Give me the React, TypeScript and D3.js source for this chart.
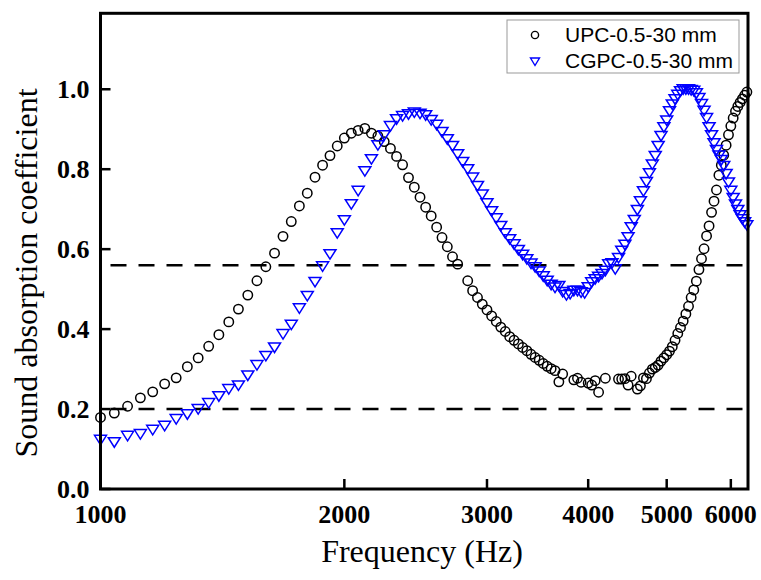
import React from "react";
import * as d3 from "d3";

const freqs = [
  1000, 1040, 1080, 1120, 1160, 1200, 1240, 1280, 1320, 1360, 1400, 1440, 1480, 1520, 1560, 1600,
  1640, 1680, 1720, 1760, 1800, 1840, 1880, 1920, 1960, 2000, 2040, 2080, 2120, 2160, 2200, 2240,
  2280, 2320, 2360, 2400, 2440, 2480, 2520, 2560, 2600, 2640, 2680, 2720, 2760, 2800, 2840, 2880,
  2920, 2960, 3000, 3040, 3080, 3120, 3160, 3200, 3240, 3280, 3320, 3360, 3400, 3440, 3480, 3520,
  3560, 3600, 3640, 3680, 3720, 3760, 3800, 3840, 3880, 3920, 3960, 4000, 4040, 4080, 4120, 4160,
  4200, 4240, 4280, 4320, 4360, 4400, 4440, 4480, 4520, 4560, 4600, 4640, 4680, 4720, 4760, 4800,
  4840, 4880, 4920, 4960, 5000, 5040, 5080, 5120, 5160, 5200, 5240, 5280, 5320, 5360, 5400, 5440,
  5480, 5520, 5560, 5600, 5640, 5680, 5720, 5760, 5800, 5840, 5880, 5920, 5960, 6000, 6040, 6080,
  6120, 6160, 6200, 6240, 6280,
];

const upc: (number | null)[] = [
  0.179, 0.19, 0.207, 0.228, 0.243, 0.263, 0.278, 0.306, 0.328, 0.357, 0.386, 0.418, 0.45, 0.485, 0.521, 0.556,
  0.59, 0.632, 0.669, 0.708, 0.74, 0.78, 0.81, 0.834, 0.858, 0.878, 0.89, 0.897, 0.902, 0.89, 0.883, 0.869,
  0.852, 0.832, 0.811, 0.779, 0.755, 0.73, 0.705, 0.683, 0.655, 0.629, 0.606, 0.581, 0.5625, null, 0.521, 0.496,
  0.479, 0.4625, 0.448, 0.433, 0.419, 0.405, 0.394, 0.381, 0.372, 0.363, 0.354, 0.346, 0.337, 0.329, 0.322, 0.314,
  0.307, 0.301, 0.296, 0.268, 0.2875, null, null, 0.273, 0.277, 0.267, null, 0.265, 0.26, 0.271, 0.242, null,
  0.277, null, null, null, 0.275, 0.275, 0.276, 0.26, 0.282, null, 0.25, 0.258, 0.278, 0.276, 0.29, 0.3,
  0.304, 0.31, 0.32, 0.328, 0.336, 0.345, 0.356, 0.372, 0.389, 0.404, 0.42, 0.438, 0.457, 0.479, 0.498, 0.52,
  0.549, 0.576, 0.601, 0.633, 0.658, 0.692, 0.72, 0.748, 0.785, 0.81, 0.835, 0.86, 0.886, 0.908, 0.928, 0.945,
  0.957, 0.967, 0.976, 0.985, 0.993,
];

const cgpc: (number | null)[] = [
  0.123, 0.117, 0.133, 0.1375, 0.148, 0.158, 0.175, 0.187, 0.2, 0.215, 0.232, 0.25, 0.259, 0.284, 0.31, 0.333,
  0.354, 0.3875, 0.411, 0.452, 0.483, 0.518, 0.557, 0.5875, 0.64, 0.6725, 0.7125, 0.746, 0.795, 0.825, 0.86, 0.885,
  0.908, 0.925, 0.933, 0.9375, 0.942, 0.939, 0.935, 0.923, 0.911, 0.893, 0.875, 0.858, 0.8375, 0.818, 0.8, 0.779,
  0.758, 0.737, 0.715, 0.695, 0.677, 0.658, 0.64, 0.625, 0.612, 0.598, 0.586, 0.575, 0.564, 0.555, 0.544, 0.532,
  0.521, 0.511, 0.504, 0.508, 0.493, 0.485, 0.488, 0.496, 0.496, 0.492, 0.49, 0.505, 0.517, 0.525, 0.531, 0.538,
  0.546, 0.562, 0.565, 0.55, 0.578, 0.596, 0.611, 0.63, 0.655, 0.673, 0.698, 0.72, 0.745, 0.768, 0.79, 0.812,
  0.833, 0.858, 0.883, 0.905, 0.922, 0.945, 0.962, 0.975, 0.986, 0.995, 1.0, 1.0, 1.0, 0.998, 0.996, 0.99,
  0.978, 0.963, 0.946, 0.928, 0.905, 0.885, 0.865, 0.848, 0.834, 0.823, 0.808, 0.788, 0.767, 0.746, 0.728, 0.712,
  0.698, 0.685, 0.675, 0.667, 0.66,
];

const seriesNames = ["UPC-0.5-30 mm", "CGPC-0.5-30 mm"];
const xTicks = [1000, 2000, 3000, 4000, 5000, 6000];
const yTicks = [0, 0.2, 0.4, 0.6, 0.8, 1.0];
const refLines = [0.2, 0.56];

const W = 761;
const H = 580;
const L = 100.5;
const R = 748;
const T = 13.3;
const B = 489;

const serif = "'Liberation Serif', 'Times New Roman', serif";
const sans = "'Liberation Sans', Arial, sans-serif";
const blue = "#0000ff";
const triPath = "M-6,-4.5L6,-4.5L0,5Z";
const triSmall = "M-4.5,-3.5L4.5,-3.5L0,4Z";

export default function App() {
  const x = d3.scaleLog().domain([1000, 6300]).range([L, R]);
  const y = d3.scaleLinear().domain([0, 1.19]).range([B, T]);

  const upcPts = freqs.map((f, i) => ({ f, v: upc[i] })).filter((d) => d.v !== null) as { f: number; v: number }[];
  const cgPts = freqs.map((f, i) => ({ f, v: cgpc[i] })).filter((d) => d.v !== null) as { f: number; v: number }[];

  return (
    <svg width={W} height={H} style={{ position: "absolute", left: 0, top: 0, background: "#fff" }}>
      <rect x={0} y={0} width={W} height={H} fill="#fff" />
      {refLines.map((r) => (
        <line
          key={r}
          x1={L}
          x2={R}
          y1={y(r)}
          y2={y(r)}
          stroke="#000"
          strokeWidth={2.5}
          strokeDasharray="16 12"
          strokeDashoffset={-10}
        />
      ))}
      {upcPts.map((d, i) => (
        <circle key={"u" + i} cx={x(d.f)} cy={y(d.v)} r={4.7} fill="none" stroke="#000" strokeWidth={1.5} />
      ))}
      {cgPts.map((d, i) => (
        <path
          key={"c" + i}
          d={triPath}
          transform={`translate(${x(d.f)},${y(d.v)})`}
          fill="none"
          stroke={blue}
          strokeWidth={1.5}
        />
      ))}
      <rect x={L} y={T} width={R - L} height={B - T} fill="none" stroke="#000" strokeWidth={3} />
      {xTicks.map((t) => (
        <g key={"xt" + t}>
          <line x1={x(t)} x2={x(t)} y1={B} y2={B - 10} stroke="#000" strokeWidth={2.5} />
          <text x={x(t)} y={523} textAnchor="middle" fontFamily={serif} fontWeight="bold" fontSize={26} fill="#000">
            {t}
          </text>
        </g>
      ))}
      {yTicks.map((t) => (
        <g key={"yt" + t}>
          <line x1={L} x2={L + 10} y1={y(t)} y2={y(t)} stroke="#000" strokeWidth={2.5} />
          <text x={89.5} y={y(t) + 9} textAnchor="end" fontFamily={serif} fontWeight="bold" fontSize={26} fill="#000">
            {t.toFixed(1)}
          </text>
        </g>
      ))}
      <text x={422} y={562} textAnchor="middle" fontFamily={serif} fontSize={32} fill="#000">
        Frequency (Hz)
      </text>
      <text transform="translate(36.5,273) rotate(-90)" textAnchor="middle" fontFamily={serif} fontSize={32} fill="#000">
        Sound absorption coefficient
      </text>
      <g>
        <rect x={507} y={20} width={232} height={53} fill="#fff" stroke="#999" strokeWidth={1} />
        <circle cx={535} cy={35} r={3.6} fill="none" stroke="#000" strokeWidth={1.4} />
        <path d={triSmall} transform="translate(535,61.5)" fill="none" stroke={blue} strokeWidth={1.4} />
        <text x={565} y={42} fontFamily={sans} fontSize={21} fill="#000">
          {seriesNames[0]}
        </text>
        <text x={565} y={68} fontFamily={sans} fontSize={21} fill="#000">
          {seriesNames[1]}
        </text>
      </g>
    </svg>
  );
}
